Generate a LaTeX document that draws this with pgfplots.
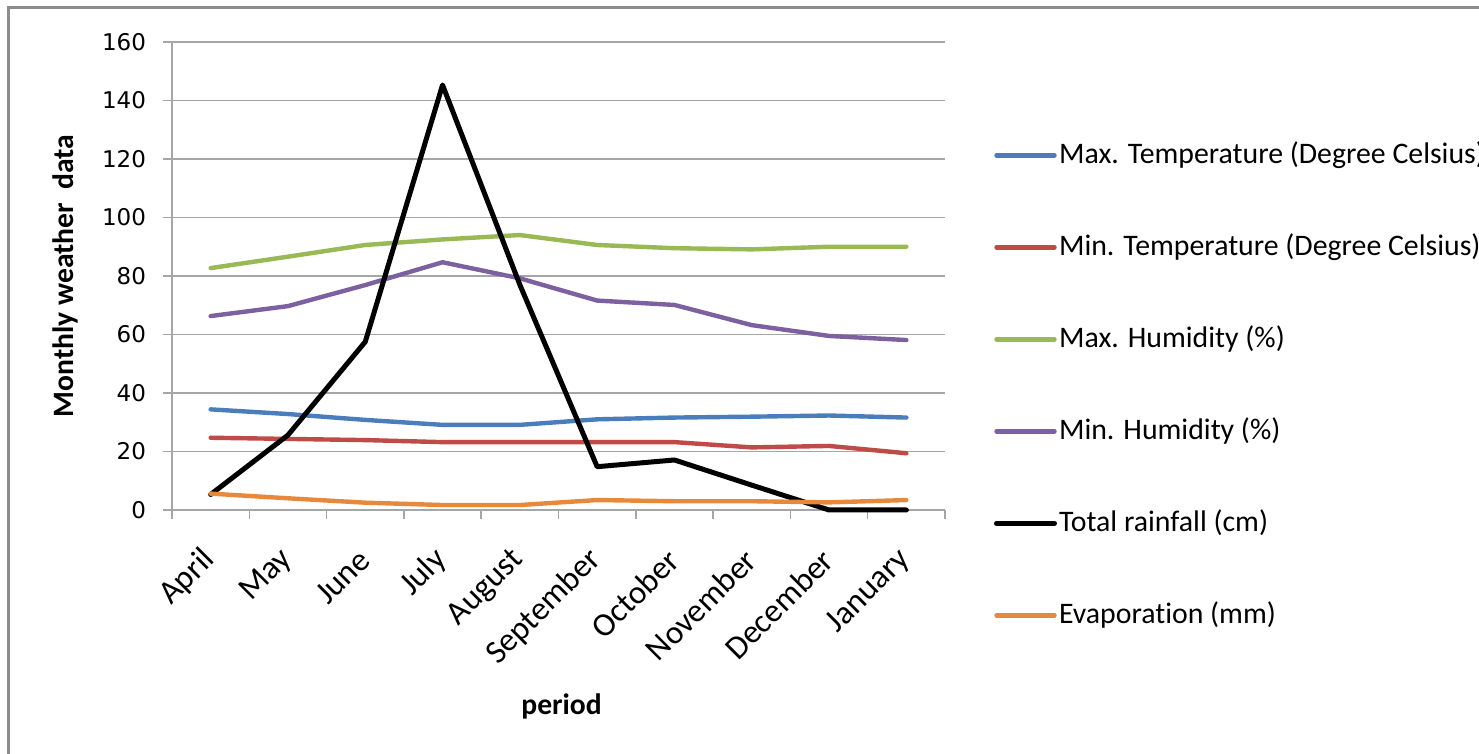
\documentclass[border=0pt]{standalone}
\usepackage{pgfplots}
\pgfplotsset{compat=1.18}
\usepackage{fontspec}
\setmainfont{Carlito}[Ligatures=NoCommon]
\newfontfamily\tickfont{DejaVu Sans}

\definecolor{cMaxT}{HTML}{4A7EBB}
\definecolor{cMinT}{HTML}{BE4B48}
\definecolor{cMaxH}{HTML}{98B954}
\definecolor{cMinH}{HTML}{7D60A0}
\definecolor{cEvap}{HTML}{E8883A}
\definecolor{gridgray}{HTML}{A6A6A6}
\definecolor{framegray}{HTML}{8C8C8C}

\begin{document}
\begin{tikzpicture}
\useasboundingbox (0,0) rectangle (739.5pt,377pt);
% outer chart frame (runs off the right and bottom edges)
\draw[framegray, line width=1.5pt] (4pt,-20pt) -- (4pt,373pt) -- (780pt,373pt);

\begin{axis}[
  at={(86pt,122pt)}, anchor=south west,
  scale only axis, width=386.5pt, height=234pt,
  xmin=-0.5, xmax=9.5, ymin=0, ymax=160,
  axis x line=bottom, axis y line=left,
  axis line style={gridgray, line width=0.75pt, -},
  ytick={0,20,...,160},
  ymajorgrids, grid style={gridgray, line width=0.75pt},
  tick style={gridgray, line width=0.75pt},
  tick align=outside, major tick length=4.5pt,
  xtick={-0.5,0.5,...,9.5}, xticklabels={},
  extra x ticks={0,1,...,9},
  extra x tick labels={April,May,June,July,August,September,October,November,December,January},
  extra x tick style={major tick length=0pt, grid=none,
    xticklabel style={font=\fontsize{16.5}{18}\selectfont, xshift=2pt, yshift=-20pt, rotate=45, anchor=east}},
  /pgf/number format/assume math mode=true,
  yticklabel style={font=\tickfont\fontsize{11.5}{13}\selectfont, xshift=-5pt},
  every axis y label/.style={at={(rel axis cs:-0.1384,0.5)}, rotate=90, anchor=center},
  every axis x label/.style={at={(rel axis cs:0.504,-0.4188)}, anchor=center},
  ylabel={\bfseries\fontsize{14.8}{16}\selectfont Monthly weather\ \ data},
  xlabel={\bfseries\fontsize{14.8}{16}\selectfont period},
  legend cell align=left,
  legend style={draw=none, fill=none, inner sep=0pt, outer sep=0pt,
    at={(rel axis cs:1.0634,0.263)}, anchor=west,
    font=\fontsize{14.9}{16}\selectfont,
    nodes={inner sep=0pt, text height=11pt, text depth=4pt},
    row sep=31pt,
    /tikz/every odd column/.append style={column sep=1pt}},
  legend image code/.code={\draw[#1, line cap=round] (0pt,0.8pt) -- (29pt,0.8pt);},
  every axis plot/.append style={line width=2.2pt, line join=round, line cap=round},
  clip=false,
]
\addplot[cMaxT] coordinates {(0,34.4) (1,32.8) (2,30.8) (3,29.1) (4,29.1) (5,31.0) (6,31.6) (7,31.9) (8,32.3) (9,31.6)};
\addlegendentry{Max. Temperature (Degree Celsius)}
\addplot[cMinT] coordinates {(0,24.7) (1,24.3) (2,23.9) (3,23.2) (4,23.2) (5,23.2) (6,23.2) (7,21.4) (8,21.9) (9,19.4)};
\addlegendentry{Min. Temperature (Degree Celsius)}
\addplot[cMaxH] coordinates {(0,82.7) (1,86.6) (2,90.6) (3,92.5) (4,94.0) (5,90.6) (6,89.5) (7,89.1) (8,90.0) (9,90.0)};
\addlegendentry{Max. Humidity (\%)}
\addplot[cMinH] coordinates {(0,66.3) (1,69.7) (2,76.9) (3,84.7) (4,79.2) (5,71.6) (6,70.1) (7,63.2) (8,59.5) (9,58.1)};
\addlegendentry{Min. Humidity (\%)}
\addplot[black, line width=2.5pt] coordinates {(0,5.3) (1,25.6) (2,57.5) (3,145.3) (4,77.0) (5,14.8) (6,17.1) (7,8.5) (8,0) (9,0)};
\addlegendentry{Total rainfall (cm)}
\addplot[cEvap] coordinates {(0,5.6) (1,4.0) (2,2.5) (3,1.7) (4,1.7) (5,3.4) (6,3.0) (7,3.0) (8,2.6) (9,3.4)};
\addlegendentry{Evaporation (mm)}
\end{axis}
\end{tikzpicture}
\end{document}
